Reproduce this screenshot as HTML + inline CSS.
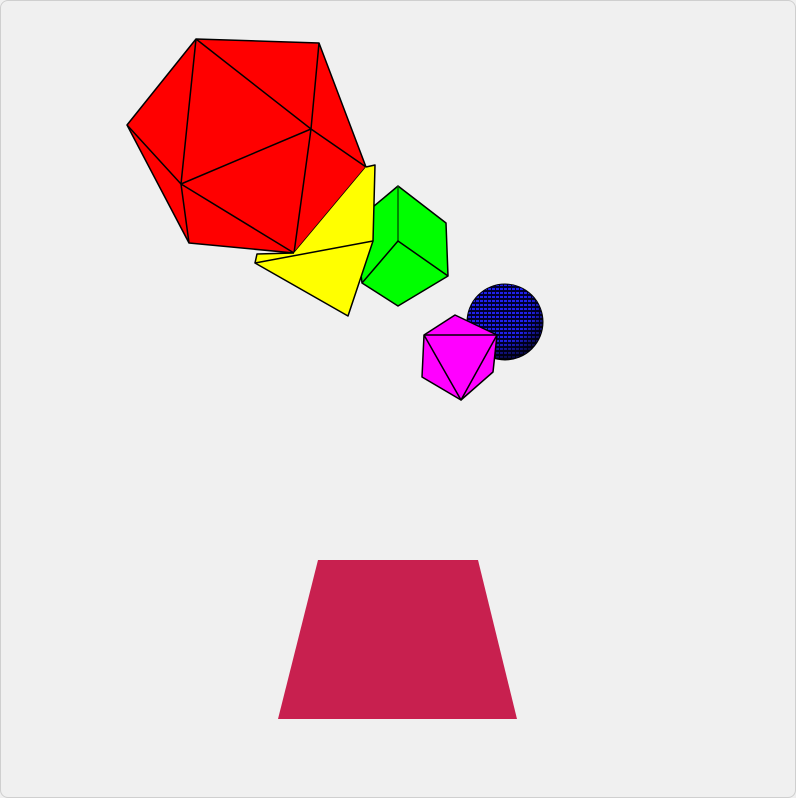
<!DOCTYPE html>
<html><head><meta charset="utf-8"><style>
html,body{margin:0;padding:0;background:#f0f0f0;}
#wrap{width:794px;height:796px;border:1px solid #cfcfcf;border-radius:8px;background:#f0f0f0;overflow:hidden;position:relative}
</style></head><body>
<div id="wrap">
<svg width="796" height="798" viewBox="0 0 796 798" style="position:absolute;left:-1px;top:-1px">
<defs>
<pattern id="dots" width="4" height="4" patternUnits="userSpaceOnUse"><rect width="4" height="4" fill="#000030"/><rect x="0" y="0" width="3" height="2" fill="#2020ee"/></pattern>
<radialGradient id="shade" cx="0.45" cy="0.35" r="0.7"><stop offset="0.55" stop-color="#000" stop-opacity="0"/><stop offset="1" stop-color="#000" stop-opacity="0.9"/></radialGradient>
</defs>
<g stroke="#000" stroke-width="1.5" stroke-linejoin="round">
<polygon fill="#ff0000" points="196,39 319,43 366,167 294,253 189,243 127,125"/>
<polyline fill="none" points="196,39 181,184 127,125"/>
<polyline fill="none" points="196,39 311,129 319,43"/>
<polyline fill="none" points="181,184 311,129 366,167"/>
<polyline fill="none" points="311,129 294,253 181,184 189,243"/>
</g>
<g stroke="#000" stroke-width="1.5" stroke-linejoin="round">
<polygon fill="#00ff00" points="398,186 446,223 448,276 398,306 362,283 355,222"/>
<polyline fill="none" stroke="#006000" points="398,186 398,241"/>
<polyline fill="none" points="362,283 398,241 448,276"/>
</g>
<g stroke="#000" stroke-width="1.5" stroke-linejoin="round">
<polygon fill="#ffff00" stroke="none" points="366,167 375,165 373,241 255,263 257,254 294,253"/>
<polyline fill="none" points="366,167 375,165 373,241"/>
<polyline fill="none" points="294,253 257,254 255,263"/>
<polygon fill="#ffff00" points="255,263 373,241 348,316"/>
</g>
<g>
<circle cx="505" cy="322" r="38" fill="url(#dots)" stroke="#000"/>
<circle cx="505" cy="322" r="38" fill="url(#shade)"/>
</g>
<g stroke="#000" stroke-width="1.5" stroke-linejoin="round">
<polygon fill="#ff00ff" points="455,315 497,335 493,372 461,400 422,377 424,335"/>
<polyline fill="none" points="424,335 497,335 461,400 424,335"/>
</g>
<polygon fill="#c8204f" points="318,560 478,560 517,719 278,719"/>
</svg>
</div>
</body></html>
